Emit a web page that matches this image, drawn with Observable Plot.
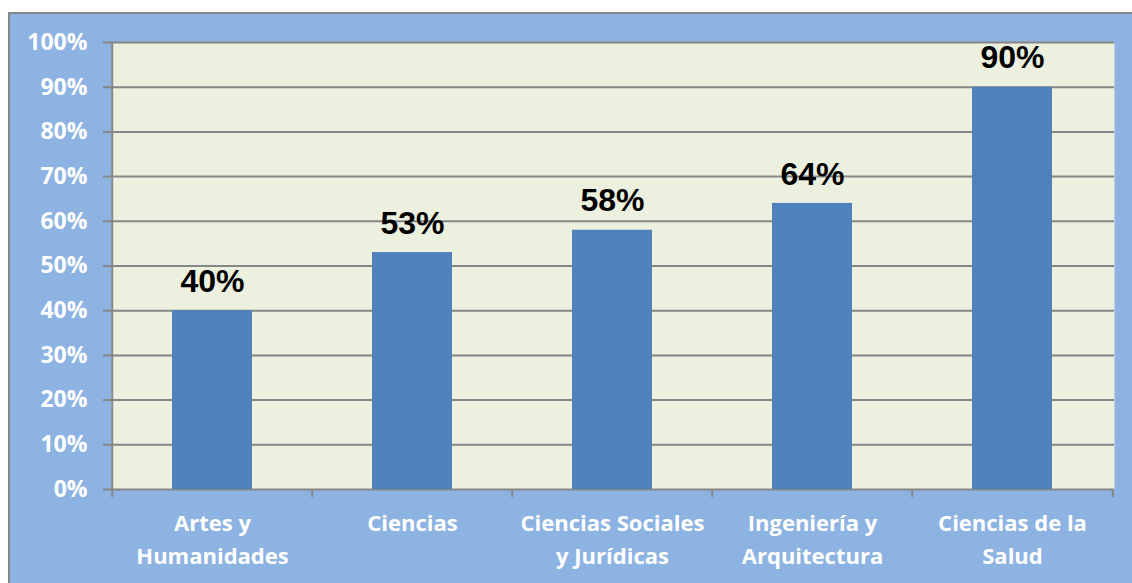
<!DOCTYPE html>
<html><head><meta charset="utf-8">
<script src="https://cdn.jsdelivr.net/npm/d3@7"></script>
<script src="https://cdn.jsdelivr.net/npm/@observablehq/plot@0.6"></script>
<style>
html,body{margin:0;padding:0;background:#fff;overflow:hidden;width:1132px;height:583px;}
#wrap{position:absolute;left:8px;top:12px;width:1124px;height:571px;background:#8DB3E2;border-left:2px solid #868686;border-top:2px solid #868686;}
</style></head>
<body><div id="wrap"></div>
<script>
const categories = ["Artes y\nHumanidades", "Ciencias", "Ciencias Sociales\ny Jurídicas", "Ingeniería y\nArquitectura", "Ciencias de la\nSalud"];
const values = [0.40, 0.53, 0.58, 0.64, 0.90];
const yTicks = [0, 0.1, 0.2, 0.3, 0.4, 0.5, 0.6, 0.7, 0.8, 0.9, 1.0];

const data = categories.map((c, i) => ({category: c, value: values[i]}));
const grid = "#868686";
const step = 1003 / 5;

const chart = Plot.plot({
  width: 1124,
  height: 569,
  marginLeft: 101,
  marginRight: 20,
  marginTop: 28,
  marginBottom: 94,
  style: {fontFamily: "'Open Sans', Lato, sans-serif", fontSize: "22px", fontWeight: "bold", background: "transparent", color: "white"},
  x: {domain: categories, paddingInner: 0.6, paddingOuter: 0.3},
  y: {domain: [0, 1]},
  marks: [
    Plot.frame({fill: "#EBF0DF", stroke: null}),
    Plot.ruleY(yTicks, {stroke: grid, strokeWidth: 2}),
    Plot.barY(data, {x: "category", y: "value", fill: "#4F81BD"}),
    Plot.ruleX([categories[0]], {x: d => d, dx: -step / 2, stroke: grid, strokeWidth: 2}),
    Plot.ruleX(categories, {x: d => d, dx: -step / 2, y1: 0, y2: 0, insetBottom: -8, stroke: grid, strokeWidth: 2}),
    Plot.ruleX([categories[categories.length - 1]], {x: d => d, dx: step / 2, y1: 0, y2: 0, insetBottom: -8, stroke: grid, strokeWidth: 2}),
    Plot.axisY({ticks: yTicks, tickFormat: d3.format(".0%"), tickSize: 8, tickPadding: 16, stroke: grid, strokeWidth: 2, fill: "white", label: null, fontSize: 23}),
    Plot.axisX({tickSize: 0, tickPadding: 18, fill: "white", label: null, lineHeight: 1.5, fontSize: 22}),
    Plot.text(data, {x: "category", y: "value", text: d => d3.format(".0%")(d.value), dy: -29, lineAnchor: "middle", fill: "black", fontSize: 32, fontFamily: "'Liberation Sans', Arial, sans-serif", fontWeight: "bold"})
  ]
});
document.getElementById("wrap").appendChild(chart);
</script>
</body></html>
